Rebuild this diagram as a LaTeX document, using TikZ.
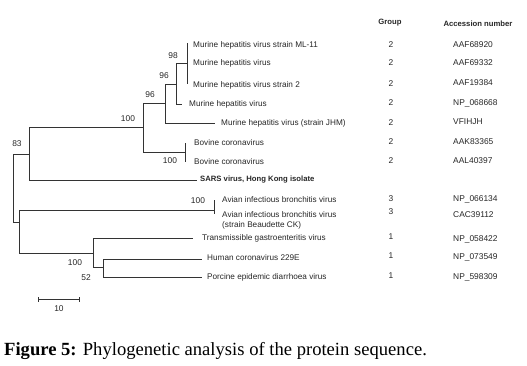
\documentclass[tikz,border=0pt]{standalone}
\usepackage{fontspec}
\setmainfont{Liberation Sans}
\newfontfamily\capfont{Liberation Serif}
\begin{document}
\begin{tikzpicture}[x=1pt,y=-1pt,
  br/.style={draw=black!80,line width=0.9pt},
  tip/.style={anchor=west,inner sep=0pt,font=\fontsize{8.2}{10}\selectfont,text=black!85},
  boot/.style={inner sep=0pt,font=\fontsize{8.4}{10}\selectfont,text=black!85},
  col/.style={inner sep=0pt,font=\fontsize{8.4}{10}\selectfont,text=black!85},
  acc/.style={anchor=west,inner sep=0pt,font=\fontsize{8.4}{10}\selectfont,text=black!85},
  hdr/.style={inner sep=0pt,font=\bfseries\fontsize{7.7}{9}\selectfont,text=black!85}]
\useasboundingbox (0,0) rectangle (527,365);
% internal node coordinates
\coordinate (r1) at (13,154); \coordinate (r2) at (13,222);
\coordinate (a1) at (29,127); \coordinate (a2) at (29,180); \coordinate (a0) at (29,154);
\coordinate (b1) at (143,103); \coordinate (b2) at (143,152); \coordinate (b0) at (143,127);
\coordinate (c1) at (165,84); \coordinate (c2) at (165,123); \coordinate (c0) at (165,103);
\coordinate (d1) at (176,63); \coordinate (d2) at (176,104); \coordinate (d0) at (176,84);
\coordinate (e1) at (187,43); \coordinate (e2) at (187,84); \coordinate (e0) at (187,63);
\coordinate (f1) at (185,143); \coordinate (f2) at (185,162); \coordinate (f0) at (185,152);
\coordinate (g1) at (19,210); \coordinate (g2) at (19,253); \coordinate (g0) at (19,222);
\coordinate (h1) at (93,238); \coordinate (h2) at (93,267); \coordinate (h0) at (93,253);
\coordinate (i1) at (103,259); \coordinate (i2) at (103,277); \coordinate (i0) at (103,267);
\coordinate (v1) at (214,200); \coordinate (v2) at (214,214); \coordinate (v0) at (214,210);
\coordinate (t4) at (182,104); \coordinate (tj) at (215,123); \coordinate (ts) at (197,180);
\coordinate (tt) at (193,238); \coordinate (th) at (202,259); \coordinate (tp) at (202,277);
% branches
\draw[br] (r1) -- (r2);
\draw[br] (r1) -- (a0); \draw[br] (a1) -- (a2);
\draw[br] (a1) -- (b0); \draw[br] (b1) -- (b2);
\draw[br] (b1) -- (c0); \draw[br] (c1) -- (c2);
\draw[br] (c1) -- (d0); \draw[br] (d1) -- (d2);
\draw[br] (d1) -- (e0); \draw[br] (e1) -- (e2);
\draw[br] (d2) -- (t4);
\draw[br] (c2) -- (tj);
\draw[br] (b2) -- (f0); \draw[br] (f1) -- (f2);
\draw[br] (a2) -- (ts);
\draw[br] (r2) -- (g0); \draw[br] (g1) -- (g2);
\draw[br] (g1) -- (v0); \draw[br] (v1) -- (v2);
\draw[br] (g2) -- (h0); \draw[br] (h1) -- (h2);
\draw[br] (h1) -- (tt);
\draw[br] (h2) -- (i0); \draw[br] (i1) -- (i2);
\draw[br] (i1) -- (th); \draw[br] (i2) -- (tp);
% tip labels
\node[tip] (l1) at (193,45) {Murine hepatitis virus strain ML-11};
\node[tip] (l2) at (193,63) {Murine hepatitis virus};
\node[tip] (l3) at (193,85) {Murine hepatitis virus strain 2};
\node[tip] (l4) at (189,104) {Murine hepatitis virus};
\node[tip] (l5) at (221,123) {Murine hepatitis virus (strain JHM)};
\node[tip] (l6) at (194,143) {Bovine coronavirus};
\node[tip] (l7) at (194,162) {Bovine coronavirus};
\node[tip,font=\bfseries\fontsize{7.7}{10}\selectfont] (l8) at (200,180) {SARS virus, Hong Kong isolate};
\node[tip] (l9) at (222,200) {Avian infectious bronchitis virus};
\node[tip,align=left] (l10) at (222,220) {Avian infectious bronchitis virus\\(strain Beaudette CK)};
\node[tip] (l11) at (202,238) {Transmissible gastroenteritis virus};
\node[tip] (l12) at (207,258) {Human coronavirus 229E};
\node[tip] (l13) at (207,277) {Porcine epidemic diarrhoea virus};
% bootstrap
\node[boot] (bs1) at (173,56) {98};
\node[boot] (bs2) at (164,76) {96};
\node[boot] (bs3) at (150,95) {96};
\node[boot] (bs4) at (128,119) {100};
\node[boot] (bs5) at (17,144) {83};
\node[boot] (bs6) at (170,161) {100};
\node[boot] (bs7) at (198,201) {100};
\node[boot] (bs8) at (75,263) {100};
\node[boot] (bs9) at (86,278) {52};
% headers
\node[hdr] (hg) at (390,23) {Group};
\node[hdr] (ha) at (478,24) {Accession number};
% group column
\foreach \n/\y/\g in {1/45/2,2/63/2,3/84/2,4/103/2,5/123/2,6/142/2,7/161/2,8/199/3,9/212/3,10/237/1,11/256/1,12/276/1}
  \node[col] (g\n) at (391,\y) {\g};
% accession column
\foreach \n/\y/\a in {1/45/AAF68920,2/63/AAF69332,3/83/AAF19384,4/103/NP\_068668,5/122/VFIHJH,6/142/AAK83365,7/161/AAL40397,8/199/NP\_066134,9/215/CAC39112,10/239/NP\_058422,11/257/NP\_073549,12/277/NP\_598309}
  \node[acc] (ac\n) at (453,\y) {\a};
% scale bar
\coordinate (s1) at (38,299); \coordinate (s2) at (79,299);
\draw[br] (s1) -- (s2);
\draw[br] ([yshift=-2.5pt]s1) -- ([yshift=2.5pt]s1);
\draw[br] ([yshift=-2.5pt]s2) -- ([yshift=2.5pt]s2);
\node[boot] (sl) at (59,309) {10};
% caption
\node[anchor=west,inner sep=0pt,font=\capfont\fontsize{18.6}{22}\selectfont] (cap) at (4,351) {\textbf{Figure 5:} Phylogenetic analysis of the protein sequence.};
\end{tikzpicture}
\end{document}
